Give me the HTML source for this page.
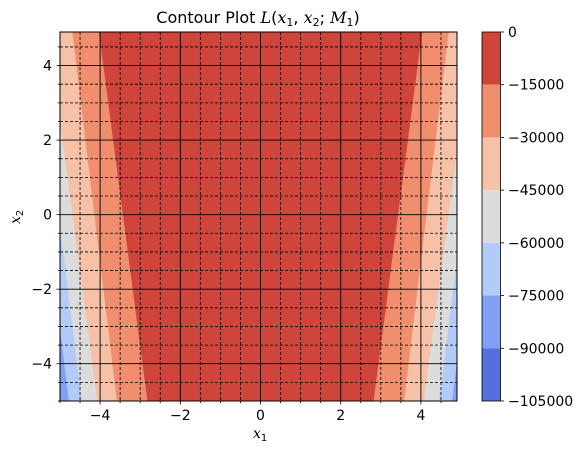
<!DOCTYPE html>
<html><head><meta charset="utf-8"><style>
body{margin:0;background:#fff;}
svg{display:block;font-family:"DejaVu Sans","Liberation Sans",sans-serif;}
</style></head><body>
<svg id="chart" width="584" height="455" viewBox="0 0 584 455" xmlns="http://www.w3.org/2000/svg">
<defs><clipPath id="axclip"><rect x="60" y="32" width="397" height="369"/></clipPath></defs>
<g id="plot" clip-path="url(#axclip)"></g>
<g id="grid" clip-path="url(#axclip)"></g>
<rect x="60" y="32" width="397" height="369" fill="none" stroke="#000" stroke-width="1"/>
<g id="ticks"></g>
<g id="cbar"></g>
<text x="258" y="23" text-anchor="middle" font-size="16">Contour Plot <tspan font-style="italic" font-family="DejaVu Serif,serif">L</tspan>(<tspan font-style="italic" font-family="DejaVu Serif,serif">x</tspan><tspan font-size="11" dy="3">1</tspan><tspan dy="-3">, </tspan><tspan font-style="italic" font-family="DejaVu Serif,serif">x</tspan><tspan font-size="11" dy="3">2</tspan><tspan dy="-3">; </tspan><tspan font-style="italic" font-family="DejaVu Serif,serif">M</tspan><tspan font-size="11" dy="3">1</tspan><tspan dy="-3">)</tspan></text>
<text x="253" y="438" font-size="14"><tspan font-style="italic" font-family="DejaVu Serif,serif">x</tspan><tspan font-size="10" dy="3">1</tspan></text>
<g transform="translate(20,224) rotate(-90)"><text x="0" y="0" font-size="14"><tspan font-style="italic" font-family="DejaVu Serif,serif">x</tspan><tspan font-size="10" dy="3">2</tspan></text></g>
</svg>
<script>
const levels=[0,-15000,-30000,-45000,-60000,-75000,-90000,-105000];
const bandColors=["#cf453c","#f08e6e","#f6c1a7","#dcdcdc","#b3cbf9","#809ff5","#5470de"];
const boundaryBottom=[2.82,3.58,4.07,4.46,4.78];
const boundaryTop=[4.03,4.69,5.3,5.6,5.9];
const xTicks=[-4,-2,0,2,4];
const yTicks=[-4,-2,0,2,4];
const NS="http://www.w3.org/2000/svg";
const X=v=>60+(v+5)*40.1, Y=v=>401-(v+5)*37.27;
const CB=v=>32+(0-v)/105000*369;
function mk(tag,attrs,parent){const e=document.createElementNS(NS,tag);for(const k in attrs)e.setAttribute(k,attrs[k]);parent.appendChild(e);return e;}
const plot=document.getElementById('plot');
let bg=mk('rect',{x:60,y:32,width:397,height:369,fill:bandColors[0]},plot);


for(let k=0;k<boundaryBottom.length;k++){
  const b=boundaryBottom[k],t=boundaryTop[k];
  for(const s of [-1,1]){
    const far=s*8;
    const pts=[[far,-5],[s*b,-5],[s*t,4.9],[far,4.9]].map(p=>X(p[0]).toFixed(1)+','+Y(p[1]).toFixed(1)).join(' ');
    const p=mk('polygon',{points:pts,fill:bandColors[k+1]},plot);
    
    
  }
}
const grid=document.getElementById('grid');
for(let i=-10;i<=10;i++){
  const v=i/2, major=(i%4===0);
  const st={stroke:'#000','stroke-width':major?0.9:0.8};
  if(!major)st['stroke-dasharray']='3,2';
  if(v>-5&&v<4.9){
    const lx=mk('line',Object.assign({x1:X(v),x2:X(v),y1:32,y2:401},st),grid);
    
    
    const ly=mk('line',Object.assign({x1:60,x2:457,y1:Y(v),y2:Y(v)},st),grid);
    
    
  }
}
const ticks=document.getElementById('ticks');
for(let i=-10;i<=9;i++){
  const v=i/2, major=(i%4===0), L=major?3.5:2;
  mk('line',{x1:X(v),x2:X(v),y1:401,y2:401+L,stroke:'#000','stroke-width':0.8},ticks);
  mk('line',{x1:60,x2:60-L,y1:Y(v),y2:Y(v),stroke:'#000','stroke-width':0.8},ticks);
}
xTicks.forEach(v=>{const t=mk('text',{x:X(v),y:420,'text-anchor':'middle','font-size':14},ticks);t.textContent=String(v).replace('-','\u2212');

});
yTicks.forEach(v=>{const t=mk('text',{x:52,y:Y(v)+5,'text-anchor':'end','font-size':14},ticks);t.textContent=String(v).replace('-','\u2212');

});
const cbar=document.getElementById('cbar');
for(let i=0;i<bandColors.length;i++){
  const r=mk('rect',{x:482,y:CB(levels[i]),width:18.5,height:CB(levels[i+1])-CB(levels[i]),fill:bandColors[i]},cbar);
  
  
}
mk('rect',{x:482,y:32,width:18.5,height:369,fill:'none',stroke:'#000','stroke-width':0.8},cbar);
levels.forEach(v=>{
  mk('line',{x1:500.5,x2:504,y1:CB(v),y2:CB(v),stroke:'#000','stroke-width':0.8},cbar);
  const t=mk('text',{x:508,y:CB(v)+5,'font-size':14},cbar);
  t.textContent=String(v).replace('-','\u2212');
  
  
});
</script>
</body></html>
